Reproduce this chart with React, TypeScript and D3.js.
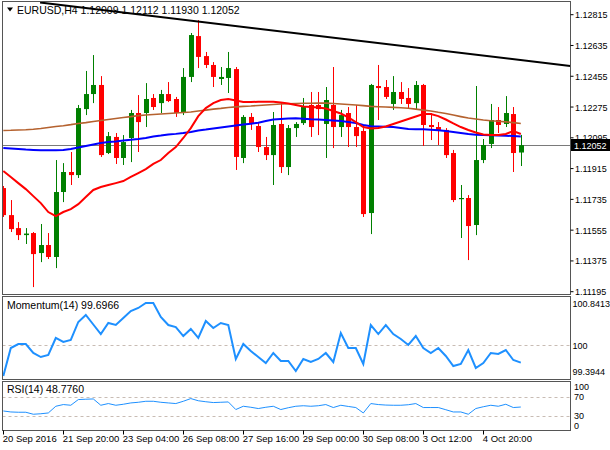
import React from 'react';
import * as d3 from 'd3';

// EURUSD H4 candles
const opens = [1.11801, 1.11643, 1.11567, 1.11526, 1.11538, 1.11421, 1.11468, 1.11398, 1.11778, 1.11895, 1.11877, 1.12263, 1.12351, 1.12404, 1.12006, 1.12100, 1.11977, 1.12094, 1.12240, 1.12240, 1.12328, 1.12298, 1.12351, 1.12322, 1.12240, 1.12451, 1.12690, 1.12573, 1.12521, 1.12439, 1.12445, 1.12497, 1.11977, 1.12217, 1.12164, 1.12041, 1.11994, 1.12176, 1.11924, 1.12152, 1.12181, 1.12287, 1.12287, 1.12176, 1.12287, 1.12158, 1.12240, 1.12158, 1.12135, 1.11655, 1.12398, 1.12392, 1.12293, 1.12363, 1.12328, 1.12298, 1.12404, 1.12170, 1.12158, 1.12141, 1.12006, 1.11737, 1.11743, 1.11585, 1.11965, 1.12059, 1.12199, 1.12176, 1.12234, 1.12009];
const highs = [1.11813, 1.11731, 1.11602, 1.11567, 1.11544, 1.11591, 1.11538, 1.11965, 1.11947, 1.12012, 1.12287, 1.12486, 1.12579, 1.12456, 1.12129, 1.12123, 1.12111, 1.12258, 1.12345, 1.12415, 1.12351, 1.12375, 1.12421, 1.12334, 1.12503, 1.12708, 1.12784, 1.12597, 1.12538, 1.12509, 1.12597, 1.12509, 1.12228, 1.12240, 1.12181, 1.12100, 1.12246, 1.12304, 1.12170, 1.12187, 1.12328, 1.12363, 1.12363, 1.12392, 1.12509, 1.12258, 1.12275, 1.12287, 1.12152, 1.12410, 1.12521, 1.12433, 1.12456, 1.12421, 1.12386, 1.12427, 1.12410, 1.12240, 1.12187, 1.12152, 1.12024, 1.11819, 1.11760, 1.12398, 1.12088, 1.12293, 1.12275, 1.12339, 1.12275, 1.12112];
const lows = [1.11632, 1.11544, 1.11497, 1.11474, 1.11222, 1.11368, 1.11386, 1.11333, 1.11719, 1.11819, 1.11860, 1.12228, 1.12298, 1.11983, 1.12000, 1.11942, 1.11936, 1.11953, 1.12012, 1.12158, 1.12258, 1.12240, 1.12304, 1.12217, 1.12228, 1.12421, 1.12503, 1.12503, 1.12392, 1.12404, 1.12357, 1.11907, 1.11947, 1.12141, 1.12012, 1.11965, 1.11819, 1.11889, 1.11877, 1.12100, 1.12170, 1.12100, 1.12111, 1.11977, 1.12035, 1.12100, 1.12041, 1.12041, 1.11632, 1.11532, 1.12199, 1.12322, 1.12258, 1.12293, 1.12269, 1.12258, 1.12047, 1.12082, 1.12053, 1.11977, 1.11719, 1.11509, 1.11380, 1.11526, 1.11947, 1.12035, 1.12123, 1.12158, 1.11895, 1.11930];
const closes = [1.11643, 1.11561, 1.11526, 1.11535, 1.11415, 1.11468, 1.11398, 1.11778, 1.11895, 1.11877, 1.12269, 1.12351, 1.12404, 1.11994, 1.12105, 1.11977, 1.12070, 1.12240, 1.12187, 1.12322, 1.12275, 1.12351, 1.12310, 1.12240, 1.12451, 1.12696, 1.12568, 1.12521, 1.12451, 1.12451, 1.12503, 1.11983, 1.12217, 1.12181, 1.12041, 1.11994, 1.12170, 1.11924, 1.12152, 1.12176, 1.12275, 1.12158, 1.12263, 1.12316, 1.12158, 1.12228, 1.12158, 1.12105, 1.11649, 1.12404, 1.12386, 1.12334, 1.12363, 1.12322, 1.12293, 1.12404, 1.12170, 1.12158, 1.12141, 1.11994, 1.11731, 1.11743, 1.11579, 1.11965, 1.12053, 1.12199, 1.12170, 1.12240, 1.12006, 1.12052];

// moving averages as drawn (red, blue, brown)
const maRed = [1.11901, 1.11866, 1.11830, 1.11795, 1.11754, 1.11713, 1.11661, 1.11637, 1.11661, 1.11678, 1.11707, 1.11749, 1.11790, 1.11807, 1.11819, 1.11830, 1.11842, 1.11866, 1.11889, 1.11912, 1.11942, 1.11965, 1.12006, 1.12041, 1.12094, 1.12152, 1.12222, 1.12269, 1.12298, 1.12316, 1.12322, 1.12313, 1.12304, 1.12304, 1.12306, 1.12306, 1.12306, 1.12301, 1.12296, 1.12287, 1.12278, 1.12275, 1.12272, 1.12266, 1.12252, 1.12237, 1.12214, 1.12187, 1.12158, 1.12150, 1.12152, 1.12161, 1.12176, 1.12190, 1.12205, 1.12220, 1.12234, 1.12234, 1.12222, 1.12202, 1.12179, 1.12158, 1.12141, 1.12126, 1.12114, 1.12111, 1.12111, 1.12117, 1.12135, 1.12117];
const maBlue = [1.12035, 1.12032, 1.12029, 1.12026, 1.12024, 1.12022, 1.12022, 1.12022, 1.12024, 1.12029, 1.12038, 1.12047, 1.12056, 1.12065, 1.12070, 1.12074, 1.12079, 1.12084, 1.12088, 1.12094, 1.12103, 1.12108, 1.12114, 1.12118, 1.12123, 1.12129, 1.12138, 1.12143, 1.12149, 1.12155, 1.12161, 1.12167, 1.12173, 1.12177, 1.12183, 1.12193, 1.12202, 1.12205, 1.12208, 1.12209, 1.12206, 1.12203, 1.12202, 1.12199, 1.12196, 1.12193, 1.12187, 1.12181, 1.12170, 1.12162, 1.12161, 1.12160, 1.12158, 1.12152, 1.12146, 1.12145, 1.12145, 1.12142, 1.12139, 1.12135, 1.12129, 1.12123, 1.12117, 1.12113, 1.12111, 1.12110, 1.12109, 1.12107, 1.12105, 1.12103];
const maBrown = [1.12138, 1.12139, 1.12141, 1.12142, 1.12145, 1.12149, 1.12155, 1.12161, 1.12166, 1.12172, 1.12179, 1.12184, 1.12190, 1.12196, 1.12202, 1.12208, 1.12214, 1.12219, 1.12225, 1.12228, 1.12231, 1.12234, 1.12237, 1.12240, 1.12243, 1.12246, 1.12252, 1.12257, 1.12263, 1.12267, 1.12272, 1.12276, 1.12279, 1.12281, 1.12284, 1.12287, 1.12290, 1.12293, 1.12294, 1.12296, 1.12297, 1.12297, 1.12298, 1.12298, 1.12296, 1.12293, 1.12290, 1.12287, 1.12283, 1.12279, 1.12277, 1.12275, 1.12273, 1.12271, 1.12268, 1.12263, 1.12257, 1.12252, 1.12244, 1.12237, 1.12228, 1.12219, 1.12211, 1.12205, 1.12199, 1.12195, 1.12192, 1.12188, 1.12184, 1.12179];

const momentum = [99.464, 99.952, 100.022, 100.022, 99.865, 99.795, 99.830, 100.127, 100.057, 100.092, 100.406, 100.528, 100.362, 100.196, 100.388, 100.353, 100.475, 100.597, 100.650, 100.737, 100.737, 100.493, 100.353, 100.318, 100.161, 100.284, 100.127, 100.423, 100.301, 100.388, 100.353, 99.761, 100.022, 99.900, 99.795, 99.691, 99.865, 99.726, 99.726, 99.551, 99.761, 99.708, 99.761, 99.865, 99.708, 100.214, 99.952, 99.952, 99.673, 100.353, 100.196, 100.353, 100.196, 100.109, 100.005, 100.161, 99.952, 99.865, 99.952, 99.813, 99.638, 99.673, 99.917, 99.604, 99.691, 99.865, 99.848, 99.917, 99.743, 99.6966];
const rsi = [40.5, 38.4, 37.8, 37.8, 33.6, 34.6, 36.3, 50.4, 54.0, 52.5, 64.5, 65.2, 65.8, 52.5, 56.1, 52.5, 54.6, 57.4, 58.8, 60.9, 60.9, 58.8, 57.4, 56.1, 60.9, 66.6, 62.0, 59.9, 58.2, 58.8, 59.5, 43.5, 50.4, 48.3, 45.6, 48.3, 50.4, 43.5, 47.3, 50.4, 51.5, 50.4, 51.5, 54.0, 47.7, 52.5, 50.0, 47.7, 36.3, 56.1, 54.0, 52.9, 52.5, 52.5, 53.6, 56.1, 47.7, 47.7, 47.7, 43.1, 38.4, 38.4, 33.6, 45.6, 49.4, 52.5, 50.4, 54.6, 47.7, 48.776];

const priceTicks = [1.12815, 1.12635, 1.12455, 1.12275, 1.12095, 1.11915, 1.11735, 1.11555, 1.11375, 1.11195];
const momTicks = [100.8413, 100, 99.3944];
const rsiTicks = [100, 70, 30, 0];
const dateIdx = [0, 8, 16, 24, 32, 40, 48, 56, 64];
const dateText = ['20 Sep 2016', '21 Sep 20:00', '23 Sep 04:00', '26 Sep 08:00', '27 Sep 16:00', '29 Sep 00:00', '30 Sep 08:00', '3 Oct 12:00', '4 Oct 20:00'];
// trend line endpoints: [bar index, price]
const trendIdx = [4.9, 75.6];
const trendPrice = [1.12886, 1.12515];
const lastPrice = 1.12052;

const FONT = '"Liberation Sans", Arial, sans-serif';
const L = 2.5, R = 570.5;
const main = { top: 1.5, bottom: 294.5 };
const mom = { top: 296.5, bottom: 379.5 };
const rsiP = { top: 381.5, bottom: 430.5 };
const GREEN = '#008000';
const RED = '#ff0000';
const AXIS_FS = 9;

const App: React.FC = () => {
  const x = d3.scaleLinear().domain([0, 69]).range([3.3, 520.8]);
  const y = d3.scaleLinear().domain([1.11195, 1.12815]).range([291.7, 14.7]);
  const ym = d3.scaleLinear().domain([99.3944, 100.8413]).range([380, 297]);
  const yr = d3.scaleLinear().domain([0, 100]).range([430.2, 382.7]);
  const idx = d3.range(opens.length);

  const maLine = (arr: number[]) =>
    d3.line<number>().x((_, i) => x(i)).y(d => y(d))(arr) || '';
  const momLine = d3.line<number>().x((_, i) => x(i)).y(d => ym(d))(momentum) || '';
  const rsiLine = d3.line<number>().x((_, i) => x(i)).y(d => yr(d))(rsi) || '';

  const lastY = Math.round(y(lastPrice)) + 0.5;

  return (
    <div style={{ position: 'fixed', left: 0, top: 0, width: 610, height: 450, background: '#fff' }}>
      <svg width={610} height={450} style={{ display: 'block' }} fontFamily={FONT}>
        <defs>
          <clipPath id="cMain"><rect x={L} y={main.top} width={R - L} height={main.bottom - main.top} /></clipPath>
          <clipPath id="cMom"><rect x={L} y={mom.top} width={R - L} height={mom.bottom - mom.top} /></clipPath>
          <clipPath id="cRsi"><rect x={L} y={rsiP.top} width={R - L} height={rsiP.bottom - rsiP.top} /></clipPath>
        </defs>
        <rect x={0} y={0} width={610} height={450} fill="#fff" />

        {/* main price panel */}
        <g clipPath="url(#cMain)">
          <line x1={L} x2={R} y1={lastY} y2={lastY} stroke="#7a7a7a" strokeWidth={1.2} />
          {idx.map(i => {
            const up = closes[i] >= opens[i];
            const c = up ? GREEN : RED;
            const cx = Math.round(x(i)) + 0.5;
            const top = y(Math.max(opens[i], closes[i]));
            const bot = y(Math.min(opens[i], closes[i]));
            return (
              <g key={i}>
                <line x1={cx} x2={cx} y1={y(highs[i])} y2={y(lows[i])} stroke={c} strokeWidth={1} />
                <rect x={cx - 2.5} y={top} width={5} height={Math.max(1.2, bot - top)} fill={c} />
              </g>
            );
          })}
          <path d={maLine(maBrown)} fill="none" stroke="#b5622f" strokeWidth={1.6} />
          <path d={maLine(maBlue)} fill="none" stroke="#0000ff" strokeWidth={2} />
          <path d={maLine(maRed)} fill="none" stroke={RED} strokeWidth={2} />
          <line x1={x(trendIdx[0])} y1={y(trendPrice[0])} x2={x(trendIdx[1])} y2={y(trendPrice[1])} stroke="#000" strokeWidth={2} />
        </g>
        <polygon points="7,7.5 13,7.5 10,11.5" fill="#000" />
        <text x={17} y={14} fontSize={10.5} fill="#000">EURUSD,H4  1.12009 1.12112 1.11930 1.12052</text>

        {/* momentum panel */}
        <line x1={L} x2={R} y1={Math.round(ym(100)) + 0.5} y2={Math.round(ym(100)) + 0.5} stroke="#c8bcb4" strokeDasharray="3,3" />
        <path d={momLine} fill="none" stroke="#1e90ff" strokeWidth={2} clipPath="url(#cMom)" />
        <text x={7} y={309} fontSize={10.5} fill="#000">Momentum(14) 99.6966</text>

        {/* RSI panel */}
        {[70, 30].map(v => (
          <line key={v} x1={L} x2={R} y1={Math.round(yr(v)) + 0.5} y2={Math.round(yr(v)) + 0.5} stroke="#c8bcb4" strokeDasharray="3,3" />
        ))}
        <path d={rsiLine} fill="none" stroke="#1e90ff" strokeWidth={1} clipPath="url(#cRsi)" />
        <text x={7} y={393} fontSize={10.5} fill="#000">RSI(14) 48.7760</text>

        {/* frames */}
        {[main, mom, rsiP].map((p, k) => (
          <rect key={k} x={L} y={p.top} width={R - L} height={p.bottom - p.top} fill="none" stroke="#555" strokeWidth={1} />
        ))}

        {/* right axis labels */}
        {priceTicks.map(v => (
          <g key={v}>
            <line x1={R} x2={R + 3} y1={y(v)} y2={y(v)} stroke="#000" />
            <text x={575} y={y(v) + 3.5} fontSize={AXIS_FS} fill="#000">{v.toFixed(5)}</text>
          </g>
        ))}
        <rect x={571} y={139} width={39} height={12} fill="#000" />
        <text x={574} y={148.5} fontSize={AXIS_FS} fill="#fff">{lastPrice.toFixed(5)}</text>

        {momTicks.map((v, k) => (
          <text key={v} x={572.5} y={k === 0 ? 306.5 : k === 2 ? 375 : ym(v) + 3.5} fontSize={AXIS_FS} fill="#000">{String(v)}</text>
        ))}
        {rsiTicks.map(v => (
          <text key={v} x={574} y={v === 100 ? 390 : v === 0 ? 429 : yr(v) + 3} fontSize={AXIS_FS} fill="#000">{String(v)}</text>
        ))}

        {/* time axis */}
        {dateIdx.map((i, k) => (
          <g key={i}>
            <line x1={Math.round(x(i)) + 0.5} x2={Math.round(x(i)) + 0.5} y1={rsiP.bottom} y2={rsiP.bottom + 4} stroke="#000" />
            <text x={x(i) - 0.5} y={442} fontSize={9.5} fill="#000">{dateText[k]}</text>
          </g>
        ))}
      </svg>
    </div>
  );
};

export default App;
